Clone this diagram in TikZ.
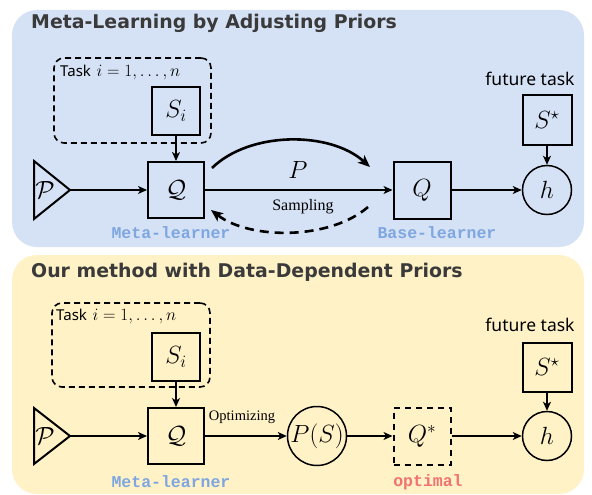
\documentclass[tikz,border=0pt]{standalone}
\usepackage{fontspec}
\usetikzlibrary{arrows.meta,calc}
\newfontfamily\titlefont{DejaVu Sans}
\newfontfamily\handfont{Noto Sans}
\newfontfamily\cmono{Liberation Mono}
\newfontfamily\tserif{Liberation Serif}
\definecolor{panelblue}{HTML}{D5E2F5}
\definecolor{panelyellow}{HTML}{FFF2C6}
\definecolor{lblblue}{HTML}{7EA6E0}
\definecolor{lblred}{HTML}{F07272}
\definecolor{titlegray}{HTML}{3A3A3A}
\tikzset{
  box/.style={draw, line width=2pt, minimum size=#1, inner sep=0pt, font=\fontsize{23}{25}\selectfont},
  box/.default=56pt,
  circ/.style={draw, circle, line width=1.5pt, minimum size=#1, inner sep=0pt, font=\fontsize{23}{25}\selectfont},
  circ/.default=49pt,
  taskbox/.style={draw, line width=1.6pt, rounded corners=10pt, dash pattern=on 6pt off 4pt, inner sep=0pt},
  tri/.style={draw, line width=2pt, line join=miter},
  arr/.style={line width=1.5pt, -{Stealth[length=9pt,width=8pt,inset=2.5pt]}},
  bigarr/.style={line width=2.6pt, -{Stealth[length=12pt,width=10pt,inset=3pt]}},
  paneltitle/.style={anchor=west, inner sep=0pt, text=titlegray, font=\titlefont\bfseries\fontsize{18.9}{21}\selectfont},
  tasklbl/.style={anchor=west, inner sep=0pt, font=\fontsize{18.5}{20}\selectfont},
  futlbl/.style={inner sep=0pt, font=\handfont\fontsize{17.5}{19}\selectfont},
  rolelbl/.style={inner sep=0pt, font=\cmono\bfseries\fontsize{16.5}{18}\selectfont},
  edgelbl/.style={inner sep=0pt, font=\tserif\fontsize{#1}{18}\selectfont},
  edgelbl/.default=16,
  mathlbl/.style={inner sep=0pt, font=\fontsize{23}{25}\selectfont},
}
\begin{document}
\begin{tikzpicture}[x=1pt,y=-1pt]
\useasboundingbox (0,0) rectangle (592,495);
% panels
\fill[panelblue, rounded corners=25pt] (12,10) rectangle (584,247);
\fill[panelyellow, rounded corners=25pt] (12,255) rectangle (584,494);

% ---------- top panel ----------
\node[paneltitle] (title1) at (31,23) {Meta-Learning by Adjusting Priors};
\node[taskbox, minimum width=157pt, minimum height=85pt] (tb1) at (132.5,100.5) {};
\node[tasklbl] (tl1) at (60,72) {{\handfont\fontsize{15}{17}\selectfont Task} $i=1,\ldots,n$};
\node[box=48pt] (s1) at (176,111) {$S_i$};
\node[box] (mq1) at (176,190) {$\mathcal{Q}$};
\draw[tri] (34,161) -- (70,190) -- (34,219) -- cycle;
\coordinate (pa1) at (70,190);
\node[mathlbl] (p1) at (45,190) {$\mathcal{P}$};
\node[box=57pt] (bq1) at (422,190) {$Q$};
\node[circ] (h1) at (547,190) {$h$};
\node[box=49pt] (ss1) at (547,120) {$S^\star$};
\node[futlbl] (ft1) at (530,79) {future task};
\node[mathlbl] (plab) at (298,170) {$P$};
\node[edgelbl] (samp) at (303,207) {Sampling};
\node[rolelbl, text=lblblue] (ml1) at (171,233) {Meta-learner};
\node[rolelbl, text=lblblue] (bl1) at (437,233) {Base-learner};

\draw[arr] (s1) -- (mq1);
\draw[arr] (pa1) -- (mq1);
\draw[arr] (mq1) -- (bq1);
\draw[arr] (bq1) -- (h1);
\draw[arr] (ss1) -- (h1);
\coordinate (cstart) at (212,168);
\coordinate (cend) at (370,167);
\draw[bigarr] (cstart) .. controls (250,131) and (330,131) .. (cend);
\coordinate (dstart) at (368,207);
\coordinate (dend) at (211,210);
\draw[bigarr, dash pattern=on 9pt off 6pt] (dstart) .. controls (330,240) and (250,240) .. (dend);

% ---------- bottom panel ----------
\node[paneltitle] (title2) at (31,272) {Our method with Data-Dependent Priors};
\node[taskbox, minimum width=158pt, minimum height=84pt] (tb2) at (131,345) {};
\node[tasklbl] (tl2) at (56,316) {{\handfont\fontsize{15}{17}\selectfont Task} $i=1,\ldots,n$};
\node[box=48pt] (s2) at (176,357) {$S_i$};
\node[box] (mq2) at (176,436) {$\mathcal{Q}$};
\draw[tri] (34,408) -- (70,436) -- (34,464) -- cycle;
\coordinate (pa2) at (70,436);
\node[mathlbl] (p2) at (45,436) {$\mathcal{P}$};
\node[circ=59pt] (ps) at (317,436) {$P(S)$};
\node[box=57pt, dash pattern=on 6pt off 5pt] (qs) at (422,436) {$Q^*$};
\node[circ] (h2) at (547,436) {$h$};
\node[box=49pt] (ss2) at (547,367) {$S^\star$};
\node[futlbl] (ft2) at (530,325) {future task};
\node[edgelbl=14.5] (opt) at (242,417) {Optimizing};
\node[rolelbl, text=lblblue] (ml2) at (171,482) {Meta-learner};
\node[rolelbl, text=lblred] (ol) at (428,482) {optimal};

\draw[arr] (s2) -- (mq2);
\draw[arr] (pa2) -- (mq2);
\draw[arr] (mq2) -- (ps);
\draw[arr] (ps) -- (qs);
\draw[arr] (qs) -- (h2);
\draw[arr] (ss2) -- (h2);
\end{tikzpicture}
\end{document}
